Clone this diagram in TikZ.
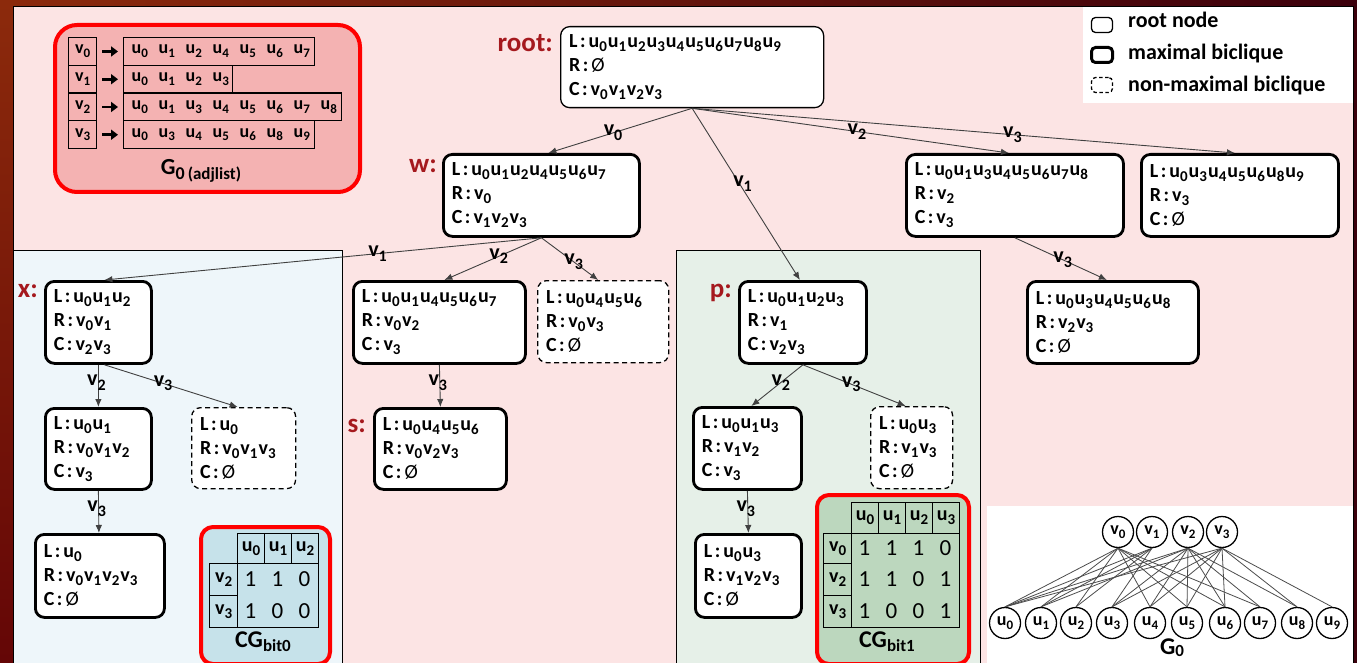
\documentclass[tikz,border=0pt]{standalone}
\usepackage{fontspec}
\setmainfont{Carlito}
\usetikzlibrary{arrows.meta}

\definecolor{frameA}{RGB}{140,42,12}
\definecolor{frameB}{RGB}{60,0,12}
\definecolor{frameC}{RGB}{100,6,6}
\definecolor{pinkbg}{RGB}{252,228,228}
\definecolor{bluebg}{RGB}{238,246,250}
\definecolor{greenbg}{RGB}{230,240,232}
\definecolor{adjfill}{RGB}{244,178,178}
\definecolor{cgblue}{RGB}{198,226,234}
\definecolor{cggreen}{RGB}{188,215,190}
\definecolor{tagred}{RGB}{165,25,30}
\definecolor{hotred}{RGB}{255,0,0}

% lowered index in a smaller size
\newcommand{\lowi}[2][15]{\raisebox{-0.2em}{\fontsize{#1}{#1}\selectfont #2}}
\newcommand{\uu}[1]{u\lowi{#1}\kern1pt}
\newcommand{\vv}[1]{v\lowi{#1}\kern1pt}
\newcommand{\ev}[1]{v\lowi[16]{#1}}
\newcommand{\nil}{{\mdseries Ø}}
\newcommand{\LRC}[3]{L\kern2.5pt:\kern3pt#1\\R\kern2.5pt:\kern3pt#2\\C\kern2.5pt:\kern3pt#3}
\newcommand{\ai}[1]{\makebox[27pt][l]{u\lowi[13]{#1}}}

% tree node: name, style, x, y, width, height, text
\newcommand{\bnode}[7]{\pgfmathsetmacro{\tw}{#5-17}%
  \node[#2, minimum width=#5pt, minimum height=#6pt, text width=\tw pt] (#1) at (#3,#4) {#7};}
% adjacency row: name, y, width, items
\newcommand{\adjrow}[4]{\pgfmathsetmacro{\tw}{#3-16}%
  \node[adjcell, minimum width=#3pt, text width=\tw pt, align=left] (#1) at (123,#2) {#4};}

\begin{document}
\begin{tikzpicture}[x=1pt,y=-1pt,
  tbox/.style={rounded corners=9pt, fill=white, align=left, anchor=north west,
    inner xsep=8pt, inner ysep=2pt, font=\bfseries\fontsize{20}{24}\selectfont},
  maxb/.style={tbox, draw, line width=2.8pt},
  rootb/.style={tbox, draw, line width=1.3pt},
  nonmax/.style={tbox, draw, line width=1.3pt, dash pattern=on 5pt off 3.5pt},
  link/.style={draw=black!75, line width=0.9pt, -{Latex[length=8pt,width=6.5pt]}},
  elab/.style={inner sep=0pt, font=\bfseries\fontsize{22}{22}\selectfont},
  tag/.style={anchor=base east, inner sep=0pt, text=tagred, font=\bfseries\fontsize{27}{27}\selectfont},
  adjcell/.style={draw, line width=1.2pt, anchor=north west, minimum height=27.75pt,
    inner xsep=8pt, inner ysep=0pt, font=\bfseries\fontsize{18}{18}\selectfont},
  vcell/.style={adjcell, minimum width=28pt, inner xsep=0pt},
  adjarrow/.style={line width=2.6pt, -{Triangle[length=7pt,width=10pt]}, shorten <=5pt, shorten >=5pt},
  cgbox/.style={draw=hotred, line width=4pt, rounded corners=12pt, anchor=north west, inner sep=0pt},
  hcell/.style={draw, line width=1.2pt, anchor=north west, inner sep=0pt, font=\bfseries\fontsize{20}{20}\selectfont},
  digit/.style={inner sep=0pt, font=\mdseries\fontsize{23}{23}\selectfont},
  cglabel/.style={anchor=base, inner sep=0pt, font=\bfseries\fontsize{24}{24}\selectfont},
  legicon/.style={draw, rounded corners=4pt, minimum width=21pt, minimum height=15pt, inner sep=0pt},
  legtext/.style={anchor=base west, inner sep=0pt, font=\bfseries\fontsize{22}{22}\selectfont},
  gcirc/.style={circle, draw, line width=1.3pt, fill=white, minimum size=31pt, inner sep=0pt,
    font=\bfseries\fontsize{18}{18}\selectfont},
  gline/.style={draw=black!70, line width=0.8pt}
]
\clip (0,0) rectangle (1357,663);

% ---------- frame and panels ----------
\shade[left color=frameA, right color=frameB] (0,0) rectangle (1357,663);
\shade[top color=frameA, bottom color=frameC] (0,0) rectangle (13,663);
\filldraw[fill=pinkbg, draw=black, line width=0.8pt] (13.5,6.5) rectangle (1353,680);
\fill[bluebg] (13.9,250) rectangle (342,680);
\draw[line width=0.8pt] (13.5,250) -- (342,250) -- (342,680);
\filldraw[fill=greenbg, draw=black, line width=0.8pt] (676,250) rectangle (980,680);
\fill[white] (987,506) rectangle (1352.6,680);
\fill[white] (1083,6.9) rectangle (1352.6,103);

% ---------- legend ----------
\node[legicon, line width=1.3pt] (ic1) at (1102,25) {};
\node[legicon, line width=3pt] (ic2) at (1102,55) {};
\node[legicon, line width=1.3pt, dash pattern=on 3.5pt off 2.5pt] (ic3) at (1102,85) {};
\node[legtext] (lt1) at (1128,28) {root node};
\node[legtext] (lt2) at (1128,60) {maximal biclique};
\node[legtext] (lt3) at (1128,92) {non-maximal biclique};

% ---------- adjacency list G0 ----------
\node[cgbox, fill=adjfill, minimum width=305pt, minimum height=167pt, rounded corners=22pt] (adj) at (53,23) {};
\node[vcell] (a0) at (68,37) {v\lowi[13]{0}};
\node[vcell] (a1) at (68,64.75) {v\lowi[13]{1}};
\node[vcell] (a2) at (68,92.5) {v\lowi[13]{2}};
\node[vcell] (a3) at (68,120.25) {v\lowi[13]{3}};
\adjrow{r0}{37}{191}{\ai0\ai1\ai2\ai4\ai5\ai6\ai7}
\adjrow{r1}{64.75}{109}{\ai0\ai1\ai2\ai3}
\adjrow{r2}{92.5}{218}{\ai0\ai1\ai3\ai4\ai5\ai6\ai7\ai8}
\adjrow{r3}{120.25}{191}{\ai0\ai3\ai4\ai5\ai6\ai8\ai9}
\foreach \i in {0,...,3} \draw[adjarrow] (a\i.east) -- (r\i.west);
\node[anchor=base, inner sep=0pt, font=\bfseries\fontsize{23}{23}\selectfont] (adjlbl) at (201,175)
  {G\lowi[18]{0}\kern3pt\raisebox{-5pt}{\fontsize{17}{17}\selectfont(adjlist)}};

% ---------- search tree ----------
\bnode{root}{rootb}{560}{26}{263}{81}{\LRC{\uu0\uu1\uu2\uu3\uu4\uu5\uu6\uu7\uu8\uu9}{\nil}{\vv0\vv1\vv2\vv3}}
\bnode{w}{maxb}{442}{153}{196}{82}{\LRC{\uu0\uu1\uu2\uu4\uu5\uu6\uu7}{\vv0}{\vv1\vv2\vv3}}
\bnode{n2}{maxb}{905}{153}{217}{82}{\LRC{\uu0\uu1\uu3\uu4\uu5\uu6\uu7\uu8}{\vv2}{\vv3}}
\bnode{n3}{maxb}{1140}{153}{197}{82}{\LRC{\uu0\uu3\uu4\uu5\uu6\uu8\uu9}{\vv3}{\nil}}
\bnode{n23}{maxb}{1026}{280}{171}{82}{\LRC{\uu0\uu3\uu4\uu5\uu6\uu8}{\vv2\vv3}{\nil}}
\bnode{wv2}{maxb}{352}{280}{172}{82}{\LRC{\uu0\uu1\uu4\uu5\uu6\uu7}{\vv0\vv2}{\vv3}}
\bnode{wv3}{nonmax}{537}{280}{131}{82}{\LRC{\uu0\uu4\uu5\uu6}{\vv0\vv3}{\nil}}
\bnode{s}{maxb}{373}{407}{132}{81}{\LRC{\uu0\uu4\uu5\uu6}{\vv0\vv2\vv3}{\nil}}
\bnode{x}{maxb}{44}{280}{106}{82}{\LRC{\uu0\uu1\uu2}{\vv0\vv1}{\vv2\vv3}}
\bnode{xv2}{maxb}{44}{407}{106}{81}{\LRC{\uu0\uu1}{\vv0\vv1\vv2}{\vv3}}
\bnode{xv3}{nonmax}{191}{407}{104}{81}{\LRC{\uu0}{\vv0\vv1\vv3}{\nil}}
\bnode{xb}{maxb}{34}{533}{129}{83}{\LRC{\uu0}{\vv0\vv1\vv2\vv3}{\nil}}
\bnode{p}{maxb}{738}{280}{127}{82}{\LRC{\uu0\uu1\uu2\uu3}{\vv1}{\vv2\vv3}}
\bnode{pv2}{maxb}{692}{406}{108}{82}{\LRC{\uu0\uu1\uu3}{\vv1\vv2}{\vv3}}
\bnode{pv3}{nonmax}{870}{406}{82}{82}{\LRC{\uu0\uu3}{\vv1\vv3}{\nil}}
\bnode{pb}{maxb}{694}{533}{106}{83}{\LRC{\uu0\uu3}{\vv1\vv2\vv3}{\nil}}

\node[tag] (troot) at (553,52) {root:};
\node[tag] (tw) at (437,173) {w:};
\node[tag] (tx) at (38,297) {x:};
\node[tag] (ts) at (366,432) {s:};
\node[tag] (tp) at (732,297) {p:};

\draw[link] (root.south) -- node[elab,pos=.55] (e1) {\ev0} ([xshift=7pt]w.north);
\draw[link] (root.south) -- node[elab,pos=.44,xshift=3pt] (e2) {\ev1} ([xshift=-3pt]p.north);
\draw[link] (root.south) -- node[elab,pos=.52] (e3) {\ev2} ([xshift=-6pt]n2.north);
\draw[link] (root.south) -- node[elab,pos=.59] (e4) {\ev3} ([xshift=-5pt]n3.north);
\draw[link] (w.south) -- node[elab,pos=.375] (e5) {\ev1} ([xshift=6pt]x.north);
\draw[link] (w.south) -- node[elab,pos=.44] (e6) {\ev2} ([xshift=5pt]wv2.north);
\draw[link] (w.south) -- node[elab,pos=.57] (e7) {\ev3} ([xshift=-5pt]wv3.north);
\draw[link] (wv2.south) -- node[elab,pos=.42,xshift=-2pt] (e8) {\ev3} (s.north);
\draw[link] (x.south) -- node[elab,pos=.42,xshift=-2pt] (e9) {\ev2} (xv2.north);
\draw[link] ([xshift=6pt]x.south) -- node[elab,pos=.44] (e10) {\ev3} ([xshift=-6pt]xv3.north);
\draw[link] (xv2.south) -- node[elab,pos=.42,xshift=-2pt] (e11) {\ev3} ([xshift=-1pt]xb.north);
\draw[link] (p.south) -- node[elab,pos=.43] (e12) {\ev2} ([xshift=4pt]pv2.north);
\draw[link] (p.south) -- node[elab,pos=.47] (e13) {\ev3} ([xshift=-6pt]pv3.north);
\draw[link] (pv2.south) -- node[elab,pos=.42,xshift=-2pt] (e14) {\ev3} (pb.north);
\draw[link] (n2.south) -- node[elab,pos=.52] (e15) {\ev3} ([xshift=-6pt]n23.north);

% ---------- CG bit0 ----------
\node[cgbox, fill=cgblue, minimum width=129pt, minimum height=137pt] (cg0) at (199,525) {};
\node[hcell, minimum width=27pt, minimum height=30pt] (c0h0) at (237,533) {u\lowi{0}};
\node[hcell, minimum width=27pt, minimum height=30pt] (c0h1) at (264,533) {u\lowi{1}};
\node[hcell, minimum width=27pt, minimum height=30pt] (c0h2) at (291,533) {u\lowi{2}};
\node[hcell, minimum width=28pt, minimum height=32pt] (c0r0) at (209,563) {v\lowi{2}};
\node[hcell, minimum width=28pt, minimum height=32pt] (c0r1) at (209,595) {v\lowi{3}};
\node[hcell, minimum width=81pt, minimum height=64pt] (c0b) at (237,563) {};
\foreach \r/\y/\row in {0/579/{1,1,0},1/611/{1,0,0}}
  \foreach \d [count=\c from 0] in \row
    \node[digit] (c0d\r\c) at (250.5+27*\c,\y) {\d};
\node[cglabel] (cg0l) at (263,647) {CG\lowi[17]{bit0}};

% ---------- CG bit1 ----------
\node[cgbox, fill=cggreen, minimum width=152pt, minimum height=169pt] (cg1) at (815,493) {};
\foreach \c in {0,...,3}
  \node[hcell, minimum width=27pt, minimum height=31pt] (c1h\c) at (851+27*\c,502) {u\lowi{\c}};
\node[hcell, minimum width=28pt, minimum height=30pt] (c1r0) at (823,533) {v\lowi{0}};
\node[hcell, minimum width=28pt, minimum height=32pt] (c1r1) at (823,563) {v\lowi{2}};
\node[hcell, minimum width=28pt, minimum height=32pt] (c1r2) at (823,595) {v\lowi{3}};
\node[hcell, minimum width=108pt, minimum height=94pt] (c1b) at (851,533) {};
\foreach \r/\y/\row in {0/548/{1,1,1,0},1/579/{1,1,0,1},2/611/{1,0,0,1}}
  \foreach \d [count=\c from 0] in \row
    \node[digit] (c1d\r\c) at (864.5+27*\c,\y) {\d};
\node[cglabel] (cg1l) at (887,647) {CG\lowi[17]{bit1}};

% ---------- bipartite graph G0 ----------
\foreach \i/\x in {0/1118,1/1152,2/1188,3/1222}
  \node[gcirc] (gv\i) at (\x,532) {v\lowi[13]{\i}};
\foreach \i/\x in {0/1005,1/1041,2/1076,3/1112,4/1150,5/1187,6/1225,7/1260,8/1297,9/1332}
  \node[gcirc] (gu\i) at (\x,623) {u\lowi[13]{\i}};
\foreach \a/\lst in {0/{0,1,2,4,5,6,7},1/{0,1,2,3},2/{0,1,3,4,5,6,7,8},3/{0,3,4,5,6,8,9}}
  \foreach \b in \lst
    \draw[gline] (gv\a.south) -- (gu\b.north);
\node[anchor=base, inner sep=0pt, font=\bfseries\fontsize{24}{24}\selectfont] (g0l) at (1172,654)
  {G\raisebox{-2.5pt}{\fontsize{17}{17}\selectfont 0}};
\end{tikzpicture}
\end{document}
